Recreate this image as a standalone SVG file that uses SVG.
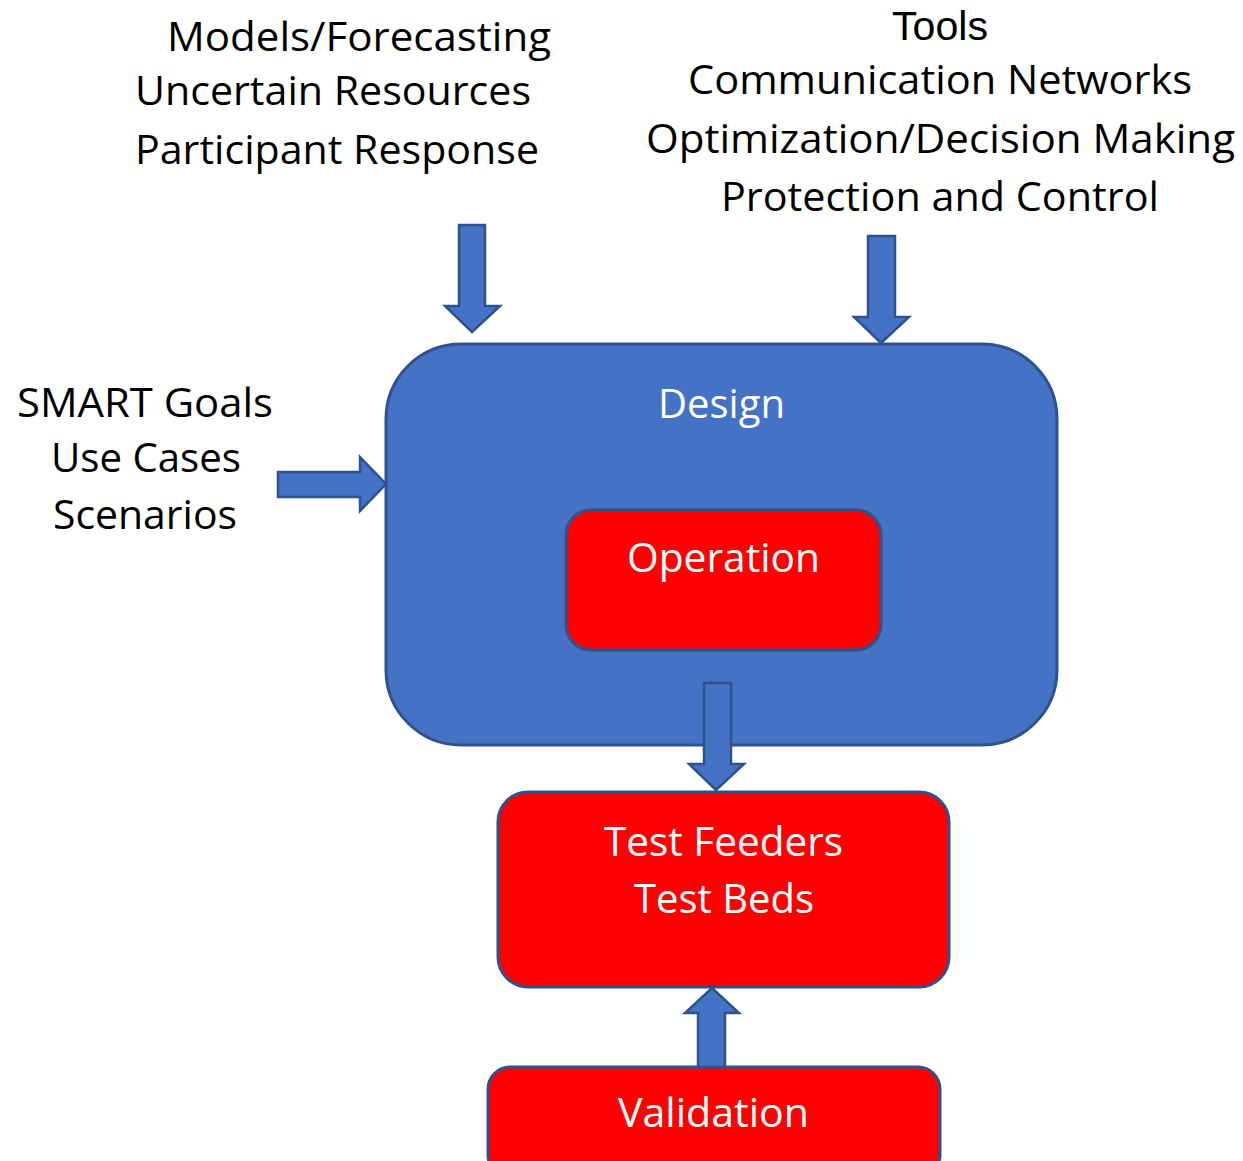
<svg xmlns="http://www.w3.org/2000/svg" width="1243" height="1161" viewBox="0 0 1243 1161">
<style>
.lbl{font-family:"Open Sans","Liberation Sans",sans-serif;font-size:41px;fill:#000}
.wl{font-family:"Open Sans","Liberation Sans",sans-serif;font-size:41px;fill:#fff}
.blue{fill:#4472C4;stroke:#2F528F;stroke-width:3}
.red{fill:#FF0000;stroke:#2F528F;stroke-width:3}
.arr{fill:#4472C4;stroke:#2F528F;stroke-width:2.5;stroke-linejoin:miter}
</style>
<rect width="1243" height="1161" fill="#fff"/>
<g id="labels-top-left">
<text class="lbl" x="167" y="51" textLength="384" lengthAdjust="spacingAndGlyphs">Models/Forecasting</text>
<text class="lbl" x="135" y="105" textLength="396" lengthAdjust="spacingAndGlyphs">Uncertain Resources</text>
<text class="lbl" x="135" y="164" textLength="404" lengthAdjust="spacingAndGlyphs">Participant Response</text>
</g>
<g id="labels-top-right">
<text class="lbl" x="892" y="40" style="font-family:'Liberation Sans',sans-serif;font-size:40px" textLength="96" lengthAdjust="spacingAndGlyphs">Tools</text>
<text class="lbl" x="688" y="94" textLength="504" lengthAdjust="spacingAndGlyphs">Communication Networks</text>
<text class="lbl" x="646" y="153" textLength="589" lengthAdjust="spacingAndGlyphs">Optimization/Decision Making</text>
<text class="lbl" x="721" y="211" textLength="438" lengthAdjust="spacingAndGlyphs">Protection and Control</text>
</g>
<g id="labels-left">
<text class="lbl" x="17" y="417" textLength="256" lengthAdjust="spacingAndGlyphs">SMART Goals</text>
<text class="lbl" x="51" y="472" textLength="190" lengthAdjust="spacingAndGlyphs">Use Cases</text>
<text class="lbl" x="53" y="529" textLength="184" lengthAdjust="spacingAndGlyphs">Scenarios</text>
</g>
<g id="design">
<rect class="blue" x="386" y="344" width="671" height="401" rx="75" ry="75"/>
<text class="wl" x="658" y="418" textLength="127" lengthAdjust="spacingAndGlyphs">Design</text>
</g>
<g id="operation">
<rect class="red" x="566" y="510" width="315" height="140" rx="25" ry="25"/>
<text class="wl" x="627" y="572" textLength="193" lengthAdjust="spacingAndGlyphs">Operation</text>
</g>
<g id="testbeds">
<rect class="red" x="498" y="792" width="451" height="195" rx="30" ry="30"/>
<text class="wl" x="604" y="856" textLength="239" lengthAdjust="spacingAndGlyphs">Test Feeders</text>
<text class="wl" x="634" y="913" textLength="180" lengthAdjust="spacingAndGlyphs">Test Beds</text>
</g>
<g id="validation">
<rect class="red" x="488" y="1067" width="452" height="110" rx="22" ry="22"/>
<text class="wl" x="618" y="1127" textLength="191" lengthAdjust="spacingAndGlyphs">Validation</text>
</g>
<g id="connectors">
<polygon class="arr" points="459,225 485,225 485,306 500,306 472,332 445,306 459,306"/>
<polygon class="arr" points="868,236 895,236 895,317 909,317 881,343 854,317 868,317"/>
<polygon class="arr" points="278,472 360,472 360,457 386,484 360,511 360,497 278,497"/>
<polygon class="arr" points="704,683 731,683 731,764 744,764 716,790 689,764 704,764"/>
<polygon class="arr" points="698,1067 725,1067 725,1013 739,1013 712,988 685,1013 698,1013"/>
</g>
</svg>
